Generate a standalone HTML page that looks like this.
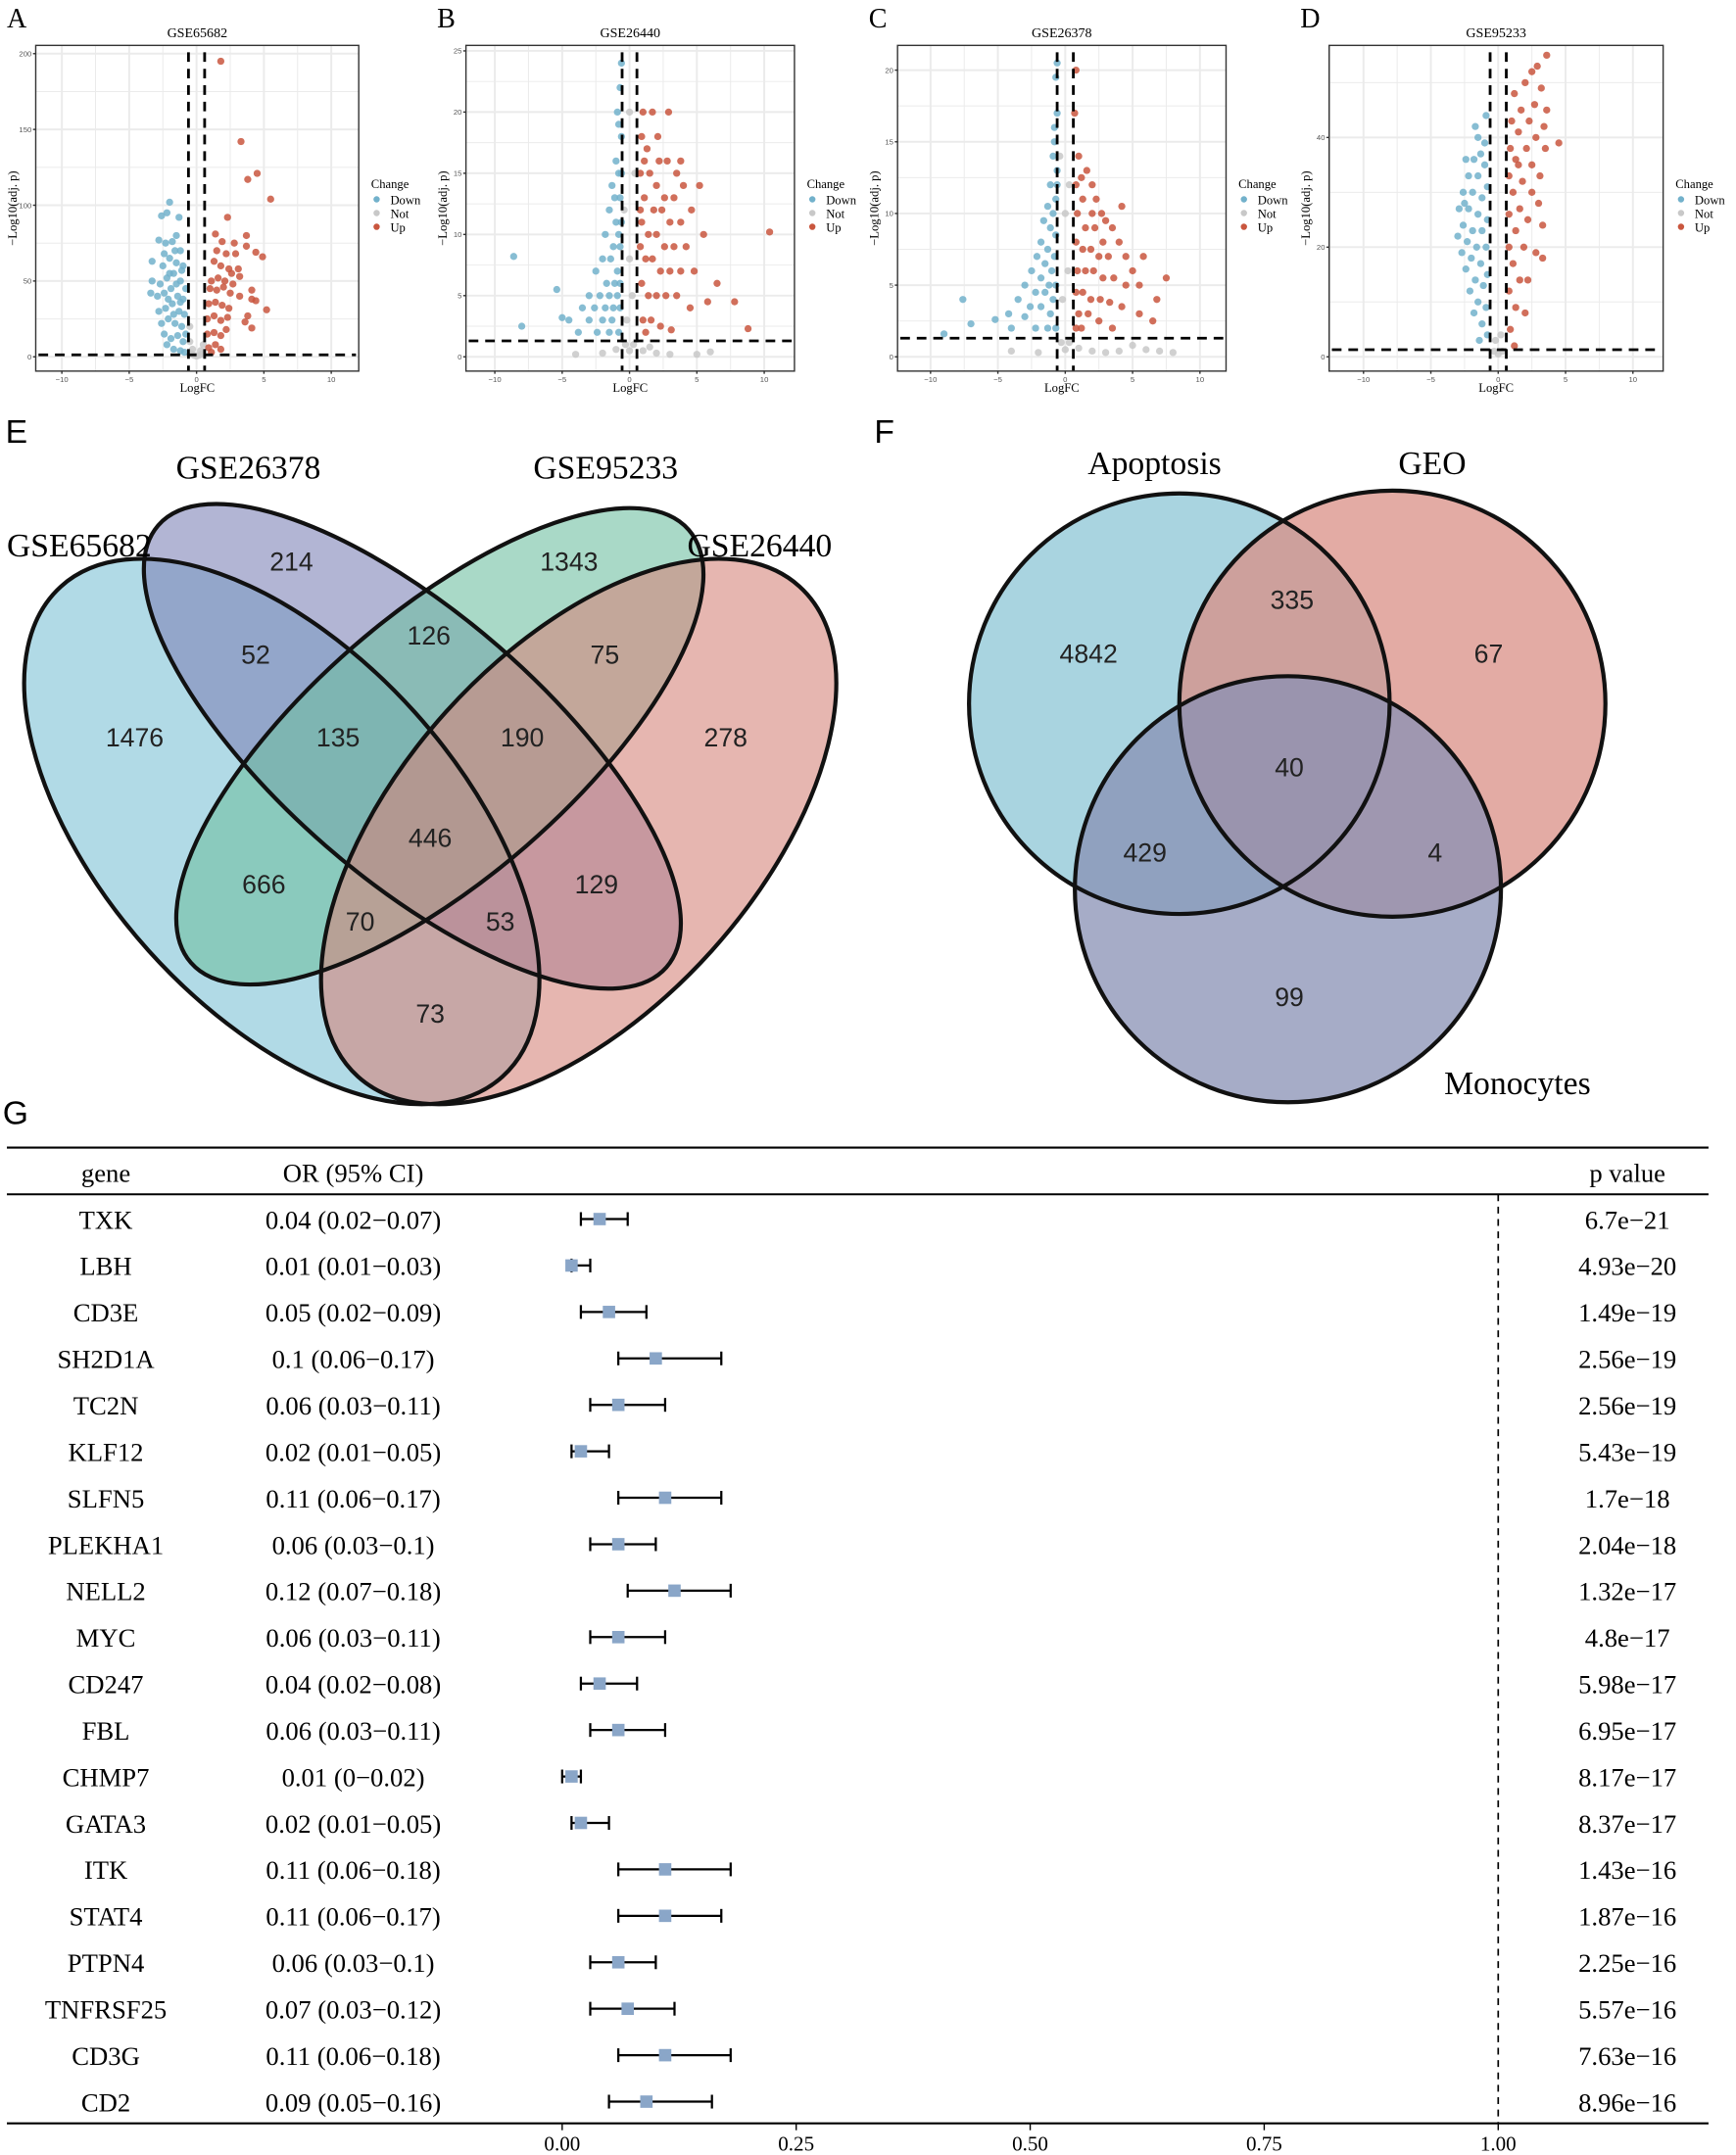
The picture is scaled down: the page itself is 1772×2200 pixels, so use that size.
<!DOCTYPE html>
<html><head><meta charset="utf-8"><style>
html,body{margin:0;padding:0;background:#fff;}
svg{display:block;}
.serif{font-family:"Liberation Serif",serif;}
.sans{font-family:"Liberation Sans",sans-serif;}
</style></head><body>
<svg id="fig" width="1772" height="2200" viewBox="0 0 1263 1568" xmlns="http://www.w3.org/2000/svg">
<g id="volcanos"></g>
<g id="vennE"></g>
<g id="vennF"></g>
<g id="forest"></g>
</svg>
<script>
const NS="http://www.w3.org/2000/svg";
function mk(tag,attrs,parent,text){const e=document.createElementNS(NS,tag);for(const k in attrs)e.setAttribute(k,attrs[k]);if(text!==undefined)e.textContent=text;parent.appendChild(e);return e;}

// ---------- Volcano data ([logFC, -log10(adj.p)]) ----------
const panelTitles=["GSE65682","GSE26440","GSE26378","GSE95233"];
const panelLetters=["A","B","C","D"];
const yMaxes=[200,25,20,40];
const yTickVals=[[0,50,100,150,200],[0,5,10,15,20,25],[0,5,10,15,20],[0,20,40]];
const xTickVals=[-10,-5,0,5,10];
const aDown=[[-2,102],[-2.2,95],[-1.3,92],[-2.6,93],[-1.5,80],[-2.8,77],[-2.3,75],[-1.8,76],[-1.2,70],[-3.3,63],[-2.5,60],[-2,65],[-1.5,62],[-1,60],[-3.3,50],[-2.7,48],[-2.2,52],[-1.7,55],[-1.2,50],[-0.8,45],[-3.4,42],[-2.9,40],[-2.4,42],[-1.9,45],[-1.4,40],[-1,38],[-2.8,30],[-2.3,32],[-1.8,35],[-1.3,30],[-0.9,28],[-2.6,22],[-2.1,25],[-1.6,22],[-1.1,20],[-0.8,15],[-2.4,15],[-1.9,12],[-1.4,14],[-1,10],[-1.7,5],[-1.2,4],[-0.9,3],[-2,55],[-1.6,70],[-2.4,68],[-1.1,57],[-1.5,48],[-2.1,38],[-1.7,28],[-1.2,36],[-2.2,8]];
const aNot=[[-0.4,2],[-0.2,1],[0,0.5],[0.2,1],[0.4,2],[-0.5,10],[-0.5,20],[0.5,8],[-0.3,5],[0.3,4]];
const aUp=[[1.8,195],[3.3,142],[4.5,121],[3.8,117],[5.5,104],[2.3,92],[1.4,81],[3.7,80],[1.9,76],[2.8,75],[1.5,70],[3.7,73],[4.4,69],[4.9,66],[2.2,68],[2.9,68],[1.3,63],[1.8,60],[2.4,58],[3.1,58],[2.6,55],[3.2,53],[1.1,50],[1.6,52],[2.1,50],[2.7,48],[1,45],[1.5,44],[2,46],[2.5,42],[3.2,40],[4.1,44],[4.1,38],[4.4,37],[5.2,31],[0.9,35],[1.4,36],[1.9,34],[2.4,32],[0.8,25],[1.3,27],[1.8,24],[2.3,26],[3.8,27],[3.6,23],[4.1,19],[0.8,15],[1.3,16],[1.8,14],[2.2,18],[0.9,6],[1.4,8],[1.8,5],[1.1,3]];
const bDown=[[-0.6,24],[-0.7,22],[-0.9,20],[-0.6,18],[-1,16],[-0.8,15],[-1.3,14],[-0.7,13],[-1.5,12],[-1,11],[-0.8,10],[-1.8,10],[-1.2,9],[-0.7,9],[-2,8],[-1.4,8],[-0.9,7],[-2.5,7],[-1.7,6],[-1.1,6],[-0.7,6],[-3,5],[-2.2,5],[-1.5,5],[-0.9,5],[-3.5,4],[-2.6,4],[-1.8,4],[-1.2,4],[-0.7,4],[-4.5,3],[-3,3],[-2,3],[-1.3,3],[-8.6,8.2],[-5.4,5.5],[-5,3.2],[-8,2.5],[-3.8,2],[-2.4,2],[-1.5,2],[-0.8,2],[-0.6,11],[-0.6,15],[-1.1,13],[-0.8,19]];
const bNot=[[-0.3,1],[0,0.5],[0.3,1],[-0.2,3],[0.2,5],[0,8],[-0.4,12],[0.4,15],[0,20],[-1,0.6],[1,0.5],[2,0.3],[3,0.2],[-2,0.3],[5,0.2],[6,0.4],[-4,0.2],[1.5,0.8]];
const bUp=[[1,20],[1.7,20],[2.9,20],[0.9,18],[1.3,17],[2.2,16],[2.8,16],[3.5,15],[0.8,15],[1.5,15],[2,14],[2.6,13],[3.3,13],[4,14],[1.1,13],[1.8,12],[2.4,12],[3,11],[3.8,11],[4.6,12],[0.9,11],[1.4,10],[2,10],[2.6,9],[3.3,9],[4.2,9],[5.5,10],[0.8,9],[1.2,8],[1.7,8],[2.3,7],[3,7],[3.8,7],[4.8,7],[6.5,6],[0.9,6],[1.4,5],[2,5],[2.7,5],[3.5,5],[4.5,4],[5.8,4.5],[7.8,4.5],[10.4,10.2],[8.8,2.3],[1,3],[1.6,3],[2.3,2.5],[3.1,2.2],[1.2,2],[0.8,12],[1.1,16],[2.1,18],[3.8,16],[5.2,14]];
const cDown=[[-0.6,20.5],[-0.7,19.5],[-0.6,17],[-0.8,15],[-0.9,14],[-0.6,13],[-1.1,12],[-0.7,11],[-1.3,10.5],[-0.9,10],[-1.6,9.5],[-1.1,9],[-0.7,8.5],[-1.8,8],[-1.3,7.5],[-0.8,7],[-2.1,7],[-1.5,6.5],[-1,6],[-2.5,6],[-1.8,5.5],[-1.2,5],[-0.7,5],[-3,5],[-2.2,4.5],[-1.5,4.5],[-0.9,4],[-3.5,4],[-2.6,3.5],[-1.8,3.5],[-1.1,3],[-4.2,3],[-3,2.8],[-7.6,4],[-7,2.3],[-5.2,2.6],[-9,1.6],[-4,2],[-2.2,2],[-1.3,2],[-0.7,2],[-0.6,12],[-0.8,16]];
const cNot=[[-0.3,1],[0,0.5],[0.3,1],[-0.2,4],[0.2,6],[0,10],[-0.4,14],[0.3,12],[2,0.4],[4,0.4],[6,0.5],[8,0.3],[-2,0.3],[-4,0.4],[1,0.6],[3,0.3],[5,0.8],[7,0.4]];
const cUp=[[0.8,20],[0.7,17],[1,14],[1.6,13],[2.3,11],[0.8,12],[1.3,11],[2,10],[2.7,10],[3.5,9],[0.9,10],[1.5,9],[2.2,9],[2.8,8],[4,8],[0.8,8],[1.3,7.5],[1.9,7.5],[2.5,7],[3.2,7],[4.5,7],[5.8,7],[0.9,6],[1.5,6],[2.1,6],[2.8,5.5],[3.6,5.5],[4.5,5],[5.5,5],[7.5,5.5],[0.8,4.5],[1.3,4.5],[1.9,4],[2.6,4],[3.3,3.8],[4.2,3.5],[5.5,3],[6.5,2.5],[1,3],[1.7,3],[2.5,2.5],[3.5,2],[1.2,2],[0.8,2],[1.2,12.5],[2,12],[3,9.5],[4.2,10.5],[5,6],[6.8,4]];
const dDown=[[-1.5,40],[-1.3,37],[-1.8,36],[-1,35],[-2.2,33],[-1.5,33],[-0.8,31],[-2.6,30],[-1.9,30],[-1.2,29],[-2.9,27],[-2.2,27],[-1.5,26],[-0.8,25],[-2.6,24],[-1.9,23],[-1.2,23],[-3,22],[-2.3,21],[-1.6,20],[-0.9,20],[-2.7,19],[-2,18],[-1.3,17],[-0.8,15],[-2.4,16],[-1.7,14],[-1.1,13],[-2.1,12],[-1.5,10],[-0.9,9],[-1.8,8],[-1.2,6],[-0.8,4],[-1.4,3],[-2.5,28],[-1,39],[-1.7,42],[-2.4,36],[-0.9,44]];
const dNot=[[-0.3,1],[0,0.5],[0.3,1],[-0.2,3],[0.2,4]];
const dUp=[[3.6,55],[2.9,53],[2,50],[3.2,49],[1.2,48],[2.7,46],[1.7,45],[3.6,45],[1,43],[2.3,43],[4.5,39],[1.5,41],[2.8,40],[0.9,38],[2.1,38],[3.5,38],[1.3,36],[2.5,35],[3.1,33],[0.8,33],[1.8,32],[2.5,30],[1.1,30],[3,28],[1.6,27],[0.8,26],[2.2,25],[3.3,24],[1.3,23],[0.8,20],[1.9,20],[2.8,19],[1.1,17],[1.6,14],[0.8,12],[1.3,9],[0.9,5],[2.2,14],[3.3,18],[2,8],[1.2,2],[2.5,52],[3.4,42],[1.5,35]];
const volData=[[aDown,aNot,aUp],[bDown,bNot,bUp],[cDown,cNot,cUp],[dDown,dNot,dUp]];
const vCut=[0.6,0.55,0.6,0.6];

const panels=[{x0:26,x1:261,x:143,y0:33,y1:270,yZero:259.6,yTop:39},
{x0:339,x1:578,x:458,y0:33,y1:270,yZero:259.6,yTop:37},
{x0:653,x1:892,x:775,y0:33,y1:270,yZero:259.6,yTop:51},
{x0:967,x1:1210,x:1090,y0:33,y1:270,yZero:259.6,yTop:100}];
const pxPerUnitX=9.8;
const cols=["#72b1cb","#c8c8c8","#c9563e"];
const vg=document.getElementById('volcanos');
panels.forEach((p,i)=>{
  const g=mk('g',{},vg);
  
  
  const yMax=yMaxes[i];
  const sx=v=>p.x+v*pxPerUnitX;
  const sy=v=>p.yZero-(v/yMax)*(p.yZero-p.yTop);
  for(let v=-12.5;v<=12.5;v+=2.5){const X=sx(v);if(X>p.x0&&X<p.x1)mk('line',{x1:X,x2:X,y1:p.y0,y2:p.y1,stroke:'#ebebeb','stroke-width':(v%5===0)?1.4:0.7},g);}
  const yt=yTickVals[i];const step=yt[1]-yt[0];
  for(let v=-step/2;v<=yt[yt.length-1]+step;v+=step/2){const Y=sy(v);if(Y>p.y0&&Y<p.y1)mk('line',{x1:p.x0,x2:p.x1,y1:Y,y2:Y,stroke:'#ebebeb','stroke-width':(Math.abs(v%step)<1e-9)?1.4:0.7},g);}
  [1,0,2].forEach(k=>{volData[i][k].forEach(pt=>{const c=mk('circle',{cx:sx(pt[0]),cy:sy(pt[1]),r:2.6,fill:cols[k],'fill-opacity':0.85},g);
    
    });});
  const th=-Math.log10(0.05);
  mk('line',{x1:p.x0+2,x2:p.x1-2,y1:sy(th),y2:sy(th),stroke:'#000','stroke-width':2,'stroke-dasharray':'7,5'},g);
  [-vCut[i],vCut[i]].forEach(v=>mk('line',{x1:sx(v),x2:sx(v),y1:p.y0+5,y2:p.y1,stroke:'#000','stroke-width':2,'stroke-dasharray':'7,5'},g));
  mk('rect',{x:p.x0,y:p.y0,width:p.x1-p.x0,height:p.y1-p.y0,fill:'none',stroke:'#333','stroke-width':1},g);
  xTickVals.forEach(v=>{mk('line',{x1:sx(v),x2:sx(v),y1:p.y1,y2:p.y1+2,stroke:'#333'},g);mk('text',{x:sx(v),y:p.y1+8,'font-size':5.5,'text-anchor':'middle',fill:'#555',class:'sans'},g,String(v).replace('-','−'));});
  yt.forEach(v=>{mk('line',{x1:p.x0-2,x2:p.x0,y1:sy(v),y2:sy(v),stroke:'#333'},g);mk('text',{x:p.x0-3,y:sy(v)+2,'font-size':5.5,'text-anchor':'end',fill:'#555',class:'sans'},g,v);});
  const t=mk('text',{x:(p.x0+p.x1)/2,y:27,'font-size':10,'text-anchor':'middle',class:'serif'},g,panelTitles[i]);
  
  mk('text',{x:(p.x0+p.x1)/2,y:285,'font-size':9,'text-anchor':'middle',class:'serif'},g,'LogFC');
  mk('text',{x:0,y:0,'font-size':9,'text-anchor':'middle',class:'serif',transform:`translate(${p.x0-14},${(p.y0+p.y1)/2}) rotate(-90)`},g,'−Log10(adj. p)');
  mk('text',{x:p.x0-21,y:20,'font-size':20,class:'serif'},g,panelLetters[i]);
  const lg=mk('g',{},g);
  const lx=p.x1+9;
  mk('text',{x:lx,y:137,'font-size':9,class:'serif'},lg,'Change');
  ['Down','Not','Up'].forEach((n,k)=>{mk('circle',{cx:lx+4,cy:145+k*10,r:2.3,fill:cols[k]},lg);mk('text',{x:lx+14,y:148.5+k*10,'font-size':9,class:'serif'},lg,n);});
});

// ---------- Venn E ----------
const vennELabels=["GSE65682","GSE26378","GSE95233","GSE26440"];
const vennECounts=[1476,214,1343,278,52,126,75,135,190,446,666,129,70,53,73];
const vennECountPos=[[98,536],[212,408],[414,408],[528,536],[186,476],[312,462],[440,476],[246,536],[380,536],[313,609],[192,643],[434,643],[262,670],[364,670],[313,737]];
const E=document.getElementById('vennE');
mk('text',{x:4,y:322,'font-size':24,class:'sans'},E,'E');
const ells=[{cx:205,cy:605,rx:240,ry:130,rot:48,fill:'#a9d6e3'},{cx:300,cy:543,rx:245,ry:96,rot:41,fill:'#7f84b8'},{cx:320,cy:543,rx:240,ry:96,rot:-41,fill:'#6fbfa2'},{cx:421,cy:605,rx:240,ry:130,rot:-48,fill:'#d6857c'}];
ells.forEach((e,i)=>{const el=mk('ellipse',{cx:e.cx,cy:e.cy,rx:e.rx,ry:e.ry,transform:`rotate(${e.rot} ${e.cx} ${e.cy})`,fill:e.fill,'fill-opacity':i===0?0.9:0.6},E);
  });
ells.forEach(e=>mk('ellipse',{cx:e.cx,cy:e.cy,rx:e.rx,ry:e.ry,transform:`rotate(${e.rot} ${e.cx} ${e.cy})`,fill:'none',stroke:'#111','stroke-width':3},E));
[[5,405],[128,348],[388,348],[500,405]].forEach((p,i)=>mk('text',{x:p[0],y:p[1],'font-size':24,class:'serif'},E,vennELabels[i]));
vennECounts.forEach((c,i)=>{const t=mk('text',{x:vennECountPos[i][0],y:vennECountPos[i][1]+7,'font-size':19,'text-anchor':'middle',class:'sans',fill:'#222'},E,c);
  });

// ---------- Venn F ----------
const vennFLabels=["Apoptosis","GEO","Monocytes"];
const vennFCounts=[4842,335,67,40,429,4,99];
const vennFCountPos=[[792,475],[940,436],[1083,475],[938,558],[833,620],[1044,620],[938,725]];
const F=document.getElementById('vennF');
mk('text',{x:636,y:322,'font-size':24,class:'sans'},F,'F');
const circs=[{cx:858,cy:512,r:153,fill:'#a9d4e0'},{cx:1013,cy:512,r:155,fill:'#d98f86'},{cx:937,cy:647,r:155,fill:'#8890b4'}];
circs.forEach((c,i)=>{const el=mk('circle',{cx:c.cx,cy:c.cy,r:c.r,fill:c.fill,'fill-opacity':i===0?1:0.75},F);
  });
circs.forEach(c=>mk('circle',{cx:c.cx,cy:c.cy,r:c.r,fill:'none',stroke:'#111','stroke-width':3},F));
mk('text',{x:840,y:345,'font-size':24,class:'serif','text-anchor':'middle'},F,'Apoptosis');
mk('text',{x:1042,y:345,'font-size':24,class:'serif','text-anchor':'middle'},F,'GEO');
mk('text',{x:1104,y:796,'font-size':24,class:'serif','text-anchor':'middle'},F,'Monocytes');
vennFCounts.forEach((c,i)=>{const t=mk('text',{x:vennFCountPos[i][0],y:vennFCountPos[i][1]+7,'font-size':19,'text-anchor':'middle',class:'sans',fill:'#222'},F,c);
  });

// ---------- Forest plot ----------
const genes=["TXK","LBH","CD3E","SH2D1A","TC2N","KLF12","SLFN5","PLEKHA1","NELL2","MYC","CD247","FBL","CHMP7","GATA3","ITK","STAT4","PTPN4","TNFRSF25","CD3G","CD2"];
const orVals=[0.04,0.01,0.05,0.1,0.06,0.02,0.11,0.06,0.12,0.06,0.04,0.06,0.01,0.02,0.11,0.11,0.06,0.07,0.11,0.09];
const ciLow=[0.02,0.01,0.02,0.06,0.03,0.01,0.06,0.03,0.07,0.03,0.02,0.03,0,0.01,0.06,0.06,0.03,0.03,0.06,0.05];
const ciHigh=[0.07,0.03,0.09,0.17,0.11,0.05,0.17,0.1,0.18,0.11,0.08,0.11,0.02,0.05,0.18,0.17,0.1,0.12,0.18,0.16];
const pvals=["6.7e−21","4.93e−20","1.49e−19","2.56e−19","2.56e−19","5.43e−19","1.7e−18","2.04e−18","1.32e−17","4.8e−17","5.98e−17","6.95e−17","8.17e−17","8.37e−17","1.43e−16","1.87e−16","2.25e−16","5.57e−16","7.63e−16","8.96e−16"];
const xTicks=[0,0.25,0.5,0.75,1];
const xTickLabels=["0.00","0.25","0.50","0.75","1.00"];
const G=document.getElementById('forest');
const fx=v=>409+v*681;
const fy=i=>887+i*33.8;
mk('text',{x:2,y:818,'font-size':24,class:'sans'},G,'G');
mk('line',{x1:5,x2:1243,y1:835,y2:835,stroke:'#000','stroke-width':1.5},G);
mk('line',{x1:5,x2:1243,y1:869,y2:869,stroke:'#000','stroke-width':1.5},G);
mk('line',{x1:5,x2:1243,y1:1545,y2:1545,stroke:'#000','stroke-width':1.5},G);
mk('text',{x:77,y:860,'font-size':19,'text-anchor':'middle',class:'serif'},G,'gene');
mk('text',{x:257,y:860,'font-size':19,'text-anchor':'middle',class:'serif'},G,'OR (95% CI)');
mk('text',{x:1184,y:860,'font-size':19,'text-anchor':'middle',class:'serif'},G,'p value');
mk('line',{x1:fx(1),x2:fx(1),y1:869,y2:1545,stroke:'#000','stroke-width':1.2,'stroke-dasharray':'5,4'},G);
genes.forEach((gname,i)=>{
  const y=fy(i);
  const row=mk('g',{},G);
  mk('text',{x:77,y:y+7,'font-size':19,'text-anchor':'middle',class:'serif'},row,gname);
  mk('text',{x:257,y:y+7,'font-size':19,'text-anchor':'middle',class:'serif'},row,`${orVals[i]} (${ciLow[i]}−${ciHigh[i]})`);
  mk('text',{x:1184,y:y+7,'font-size':19,'text-anchor':'middle',class:'serif'},row,pvals[i]);
  const ci=mk('line',{x1:fx(ciLow[i]),x2:fx(ciHigh[i]),y1:y,y2:y,stroke:'#000','stroke-width':1.6},row);
  
  mk('line',{x1:fx(ciLow[i]),x2:fx(ciLow[i]),y1:y-5,y2:y+5,stroke:'#000','stroke-width':1.6},row);
  mk('line',{x1:fx(ciHigh[i]),x2:fx(ciHigh[i]),y1:y-5,y2:y+5,stroke:'#000','stroke-width':1.6},row);
  const sq=mk('rect',{x:fx(orVals[i])-4.5,y:y-4.5,width:9,height:9,fill:'#8aa6c8'},row);
  
});
xTicks.forEach((v,i)=>{mk('line',{x1:fx(v),x2:fx(v),y1:1545,y2:1550,stroke:'#000'},G);
  mk('text',{x:fx(v),y:1565,'font-size':15,'text-anchor':'middle',class:'serif'},G,xTickLabels[i]);});
</script>
</body></html>
